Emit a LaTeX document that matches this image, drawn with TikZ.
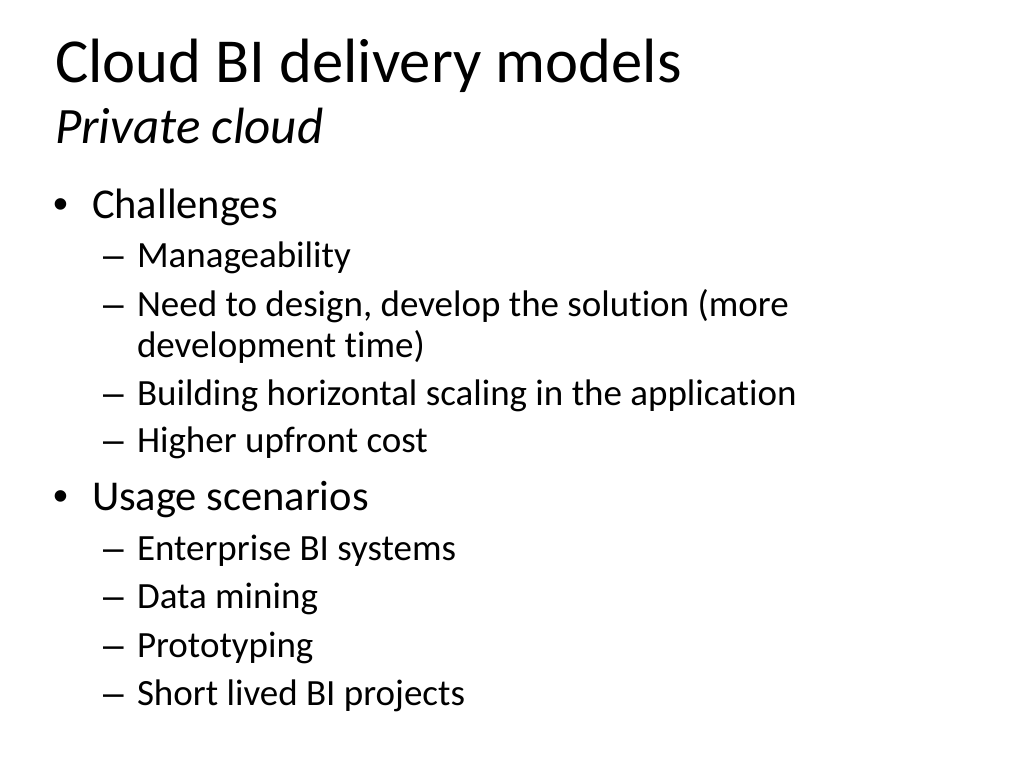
\documentclass[tikz,border=0pt]{standalone}
\usepackage{fontspec}
\setmainfont[Ligatures={NoCommon}]{Carlito}
\newfontfamily\markfont{Liberation Sans}
\usetikzlibrary{positioning}

\begin{document}
\begin{tikzpicture}[x=1pt, y=-1pt,
	txt/.style={anchor=base west, inner sep=0pt, outer sep=0pt},
	head/.style={txt, font=\fontsize{62.6}{70}\selectfont},
	subhead/.style={txt, font=\fontsize{51}{58}\selectfont\itshape},
	lvla/.style={txt, font=\fontsize{42.5}{48}\selectfont},
	lvlb/.style={txt, font=\fontsize{37}{43}\selectfont},
	dota/.style={txt, font=\fontsize{42.5}{48}\selectfont\markfont},
	dashb/.style={txt, font=\fontsize{37}{43}\selectfont\markfont}]
	\useasboundingbox[fill=white] (0,0) rectangle (1024,768);
	\node[head] (title) at (55,82) {Cloud BI delivery models};
	\node[subhead] (sub) at (55,143) {Private cloud};
	\node[dota] (ba) at (53,218) {•};
	\node[lvla] (chal) at (92,218) {Challenges};
	\node[dashb] (da) at (103,267) {–};
	\node[lvlb] (man) at (137,267) {Manageability};
	\node[dashb] (db) at (103,316) {–};
	\node[lvlb] (need) at (137,316) {Need to design, develop the solution (more};
	\node[lvlb] (need2) at (137,357) {development time)};
	\node[dashb] (dc) at (103,405) {–};
	\node[lvlb] (build) at (137,405) {Building horizontal scaling in the application};
	\node[dashb] (dd) at (103,452) {–};
	\node[lvlb] (cost) at (137,452) {Higher upfront cost};
	\node[dota] (bb) at (53,510) {•};
	\node[lvla] (usage) at (92,510) {Usage scenarios};
	\node[dashb] (de) at (103,560) {–};
	\node[lvlb] (ent) at (137,560) {Enterprise BI systems};
	\node[dashb] (df) at (103,608) {–};
	\node[lvlb] (mine) at (137,608) {Data mining};
	\node[dashb] (dg) at (103,657) {–};
	\node[lvlb] (proto) at (137,657) {Prototyping};
	\node[dashb] (dh) at (103,705) {–};
	\node[lvlb] (short) at (137,705) {Short lived BI projects};
\end{tikzpicture}
\end{document}
